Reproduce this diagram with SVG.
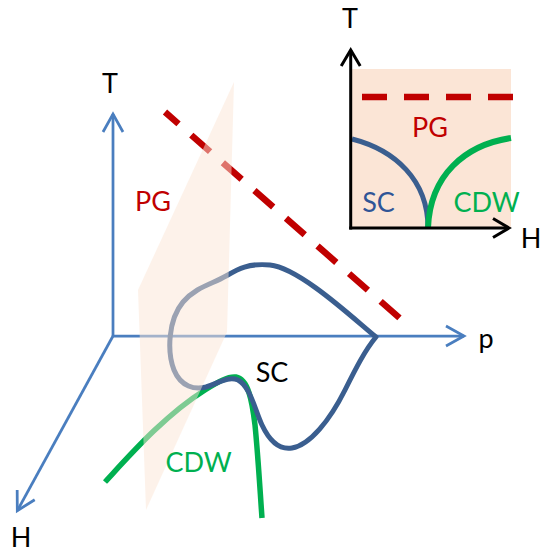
<svg xmlns="http://www.w3.org/2000/svg" width="543" height="552" viewBox="0 0 543 552">
<style>
.lbl{font-family:Lato,"Liberation Sans",sans-serif;font-size:27px;text-anchor:middle}
.ax{fill:none;stroke:#4A7EBF;stroke-width:2.75}
.axk{fill:none;stroke:#000;stroke-width:3}
.red{fill:none;stroke:#C00000;stroke-width:6.5}
.sc{fill:none;stroke:#3A5E8F;stroke-width:5;stroke-linecap:round;stroke-linejoin:round}
.cdw{fill:none;stroke:#00B050;stroke-width:5.5;stroke-linecap:butt}
</style>
<defs>
<marker id="arrB" markerUnits="userSpaceOnUse" markerWidth="24" markerHeight="24" viewBox="-20 -12 24 24" refX="0" refY="0" orient="auto" overflow="visible">
<path d="M-18,-10 L0,0 L-18,10" fill="none" stroke="#4A7EBF" stroke-width="2.75"/>
</marker>
<marker id="arrK" markerUnits="userSpaceOnUse" markerWidth="24" markerHeight="24" viewBox="-20 -12 24 24" refX="0" refY="0" orient="auto" overflow="visible">
<path d="M-16,-9.5 L0,0 L-16,9.5" fill="none" stroke="#000" stroke-width="3"/>
</marker>
</defs>
<rect width="543" height="552" fill="#fff"/>

<g id="connectors">
<line id="axis-T" class="ax" x1="113" y1="336" x2="113" y2="114" marker-end="url(#arrB)"/>
<line id="axis-p" class="ax" x1="113" y1="336" x2="464" y2="336" marker-end="url(#arrB)"/>
<line id="axis-H" class="ax" x1="113" y1="336" x2="17.3" y2="510.7" marker-end="url(#arrB)"/>
</g>

<g id="pg-line">
<line class="red" x1="165" y1="112" x2="403" y2="321" stroke-dasharray="25 17" stroke-dashoffset="7"/>
</g>

<g id="cdw-curve">
<path class="cdw" d="M105,482 C130,455 165,415 205,390 C218,382 228,376 236,377 C248,379 252,400 255,425 C258,455 260,490 262,518"/>
</g>

<g id="sc-curve">
<path class="sc" d="M376,337 C355,320 300,268 270,265 C248,263 238,269 226,276 C212,284 196,287 183,302 C168,320 167,352 174,370 C181,387 195,390 206,387 C219,383 228,376 238,380 C250,386 255,410 262,425 C270,442 280,450 292,448 C310,445 330,420 345,390 C355,370 365,350 376,337"/>
</g>

<g id="plane">
<polygon points="234,82 138,290 146,510 227,332" fill="#FBE5D6" fill-opacity="0.5"/>
</g>

<g id="labels-main">
<text class="lbl" x="110" y="93" fill="#000">T</text>
<text class="lbl" x="486" y="348" fill="#000">p</text>
<text class="lbl" x="21" y="547" fill="#000">H</text>
<text class="lbl" x="153" y="211" fill="#C00000">PG</text>
<text class="lbl" x="272" y="382" fill="#000">SC</text>
<text class="lbl" x="198.5" y="472" fill="#00B050">CDW</text>
</g>

<g id="inset">
<rect x="352" y="69" width="159" height="159" fill="#FBE5D6"/>
<line class="red" x1="362" y1="97" x2="514" y2="97" stroke-dasharray="25 17"/>
<path class="sc" style="stroke-linecap:butt" d="M352,139 C395,150 428,180 428,228"/>
<path class="cdw" style="stroke-width:6" d="M428,228 C430,175 465,145 511,138"/>
<line class="axk" x1="350.7" y1="229.5" x2="350.7" y2="50" marker-end="url(#arrK)"/>
<line class="axk" x1="349.2" y1="228" x2="509" y2="228" marker-end="url(#arrK)"/>
<text class="lbl" x="350" y="28" fill="#000">T</text>
<text class="lbl" x="531" y="248" fill="#000">H</text>
<text class="lbl" x="430" y="137" fill="#C00000">PG</text>
<text class="lbl" x="378.5" y="212" fill="#2F5597">SC</text>
<text class="lbl" x="486.5" y="212" fill="#00B050">CDW</text>
</g>
</svg>
